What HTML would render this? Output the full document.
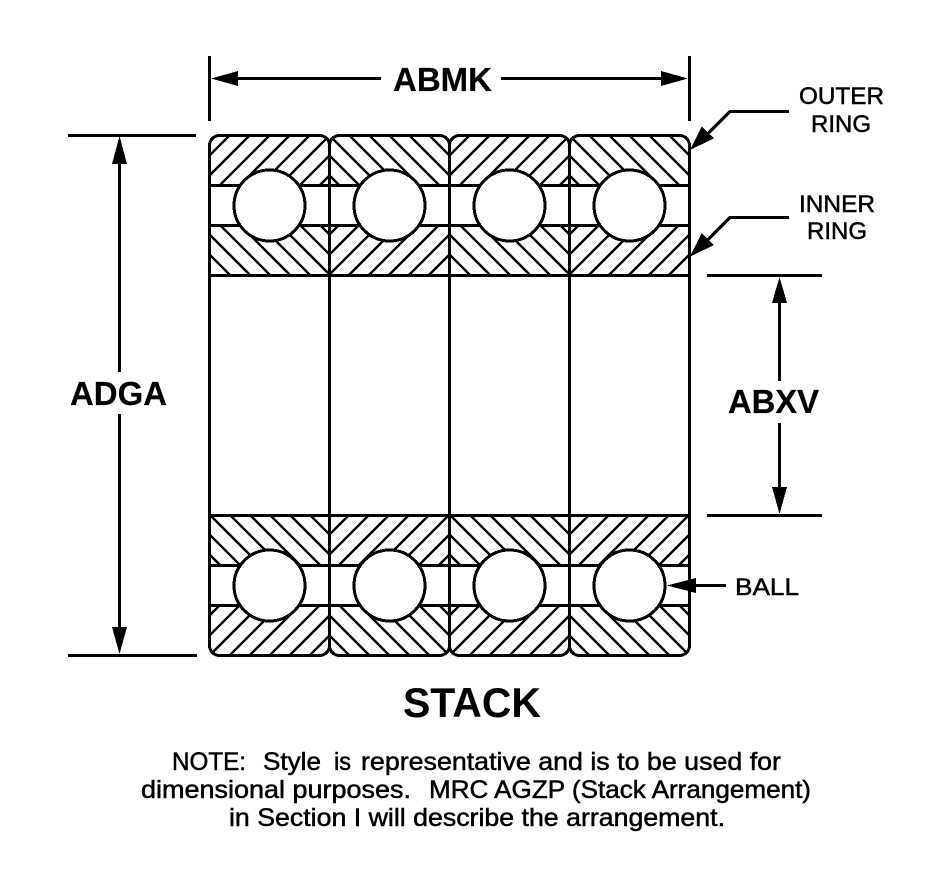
<!DOCTYPE html>
<html>
<head>
<meta charset="utf-8">
<style>
html,body{margin:0;padding:0;background:#fff;width:945px;height:883px;overflow:hidden}
svg{display:block}
text{font-family:"Liberation Sans",Arial,sans-serif;fill:#000}
.b{font-weight:bold;font-size:33px;stroke:#000;stroke-width:.2}
.r{font-size:24px;stroke:#000;stroke-width:.5}
.n{font-size:25px;stroke:#000;stroke-width:.5}
</style>
</head>
<body>
<svg width="945" height="883" viewBox="0 0 945 883" xmlns="http://www.w3.org/2000/svg">
<rect width="945" height="883" fill="#fff"/>
<defs>
<clipPath id="c1"><path d="M209.5 185.5V145.5a10 10 0 0 1 10-10H319.5a10 10 0 0 1 10 10V185.5Z"/></clipPath>
<clipPath id="c2"><rect x="209.5" y="225.5" width="120" height="50"/></clipPath>
<clipPath id="c3"><rect x="209.5" y="515.5" width="120" height="50"/></clipPath>
<clipPath id="c4"><path d="M209.5 605.5V645.5a10 10 0 0 0 10 10H319.5a10 10 0 0 0 10-10V605.5Z"/></clipPath>
<g id="cell" shape-rendering="crispEdges">
  <g fill="none" stroke="#000" stroke-width="2.4">
    <path clip-path="url(#c1)" d="M235 130l-60 60M255 130l-60 60M275 130l-60 60M295 130l-60 60M315 130l-60 60M335 130l-60 60M355 130l-60 60M375 130l-60 60"/>
    <path clip-path="url(#c2)" d="M175 220l60 60M195 220l60 60M215 220l60 60M235 220l60 60M255 220l60 60M275 220l60 60M295 220l60 60M315 220l60 60"/>
    <path clip-path="url(#c3)" d="M165 510l60 60M185 510l60 60M205 510l60 60M225 510l60 60M245 510l60 60M265 510l60 60M285 510l60 60M305 510l60 60"/>
    <path clip-path="url(#c4)" d="M225 600l-60 60M245 600l-60 60M265 600l-60 60M285 600l-60 60M305 600l-60 60M325 600l-60 60M345 600l-60 60M365 600l-60 60M385 600l-60 60"/>
  </g>
  <g fill="none" stroke="#000" stroke-width="3">
    <path d="M209.5 145.5a10 10 0 0 1 10-10H319.5a10 10 0 0 1 10 10V645.5a10 10 0 0 1-10 10H219.5a10 10 0 0 1-10-10Z"/>
    <path d="M209 185.5H330M209 225.5H330M209 275.5H330M209 515.5H330M209 565.5H330M209 605.5H330"/>
  </g>
  <circle cx="269.5" cy="205.5" r="35.5" fill="#fff" stroke="#000" stroke-width="3"/>
  <circle cx="269.5" cy="585.5" r="35.5" fill="#fff" stroke="#000" stroke-width="3"/>
</g>
</defs>

<use href="#cell"/>
<use href="#cell" transform="matrix(-1 0 0 1 659 0)"/>
<use href="#cell" transform="translate(240 0)"/>
<use href="#cell" transform="matrix(-1 0 0 1 899 0)"/>

<g shape-rendering="crispEdges">
  <g fill="none" stroke="#000" stroke-width="3">
    <!-- top dimension -->
    <path d="M209.5 56V121M689.5 56V121M225 78.5H381M501 78.5H675"/>
    <!-- left dimension -->
    <path d="M68 135.5H196M68 655.5H197M119.5 150V372M119.5 414V640"/>
    <!-- right dimension -->
    <path d="M707 275.5H822M707 515.5H822M779.5 290V381M779.5 423V500"/>
    <!-- leaders -->
    <path d="M789 111.5H730L705 136.5M789 217.5H730L705 242.5M726 585.5H685"/>
  </g>
  <g fill="#000">
    <path d="M211 78.5L238 71V86Z"/>
    <path d="M688 78.5L661 71V86Z"/>
    <path d="M119.5 136L112 164H127Z"/>
    <path d="M119.5 654L112 627H127Z"/>
    <path d="M779.5 277L772 303H787Z"/>
    <path d="M779.5 514L772 487H787Z"/>
    <path d="M690 150L701.7 126.7L714 138.3Z"/>
    <path d="M690 256.7L701.7 233L714 245Z"/>
    <path d="M667 585.5L696 578V593Z"/>
  </g>
</g>

<text class="b" x="393" y="91" textLength="99" lengthAdjust="spacingAndGlyphs">ABMK</text>
<text class="b" x="70" y="405" textLength="97" lengthAdjust="spacingAndGlyphs">ADGA</text>
<text class="b" x="728" y="413" textLength="91" lengthAdjust="spacingAndGlyphs">ABXV</text>
<text class="r" x="799" y="104" textLength="85" lengthAdjust="spacingAndGlyphs">OUTER</text>
<text class="r" x="811" y="132" textLength="60" lengthAdjust="spacingAndGlyphs">RING</text>
<text class="r" x="799" y="212" textLength="76" lengthAdjust="spacingAndGlyphs">INNER</text>
<text class="r" x="807" y="239" textLength="60" lengthAdjust="spacingAndGlyphs">RING</text>
<text class="r" x="735" y="595" textLength="64" lengthAdjust="spacingAndGlyphs">BALL</text>
<text x="403" y="717" font-size="42" font-weight="bold" textLength="138" lengthAdjust="spacingAndGlyphs">STACK</text>
<text class="n" x="172" y="770" textLength="74" lengthAdjust="spacingAndGlyphs">NOTE:</text>
<text class="n" x="263" y="770" textLength="58" lengthAdjust="spacingAndGlyphs">Style</text>
<text class="n" x="334" y="770" textLength="17" lengthAdjust="spacingAndGlyphs">is</text>
<text class="n" x="361" y="770" textLength="420" lengthAdjust="spacingAndGlyphs">representative and is to be used for</text>
<text class="n" x="141" y="798" textLength="270" lengthAdjust="spacingAndGlyphs">dimensional purposes.</text>
<text class="n" x="429" y="798" textLength="382" lengthAdjust="spacingAndGlyphs">MRC AGZP (Stack Arrangement)</text>
<text class="n" x="229" y="826" textLength="496" lengthAdjust="spacingAndGlyphs">in Section I will describe the arrangement.</text>
</svg>
</body>
</html>
